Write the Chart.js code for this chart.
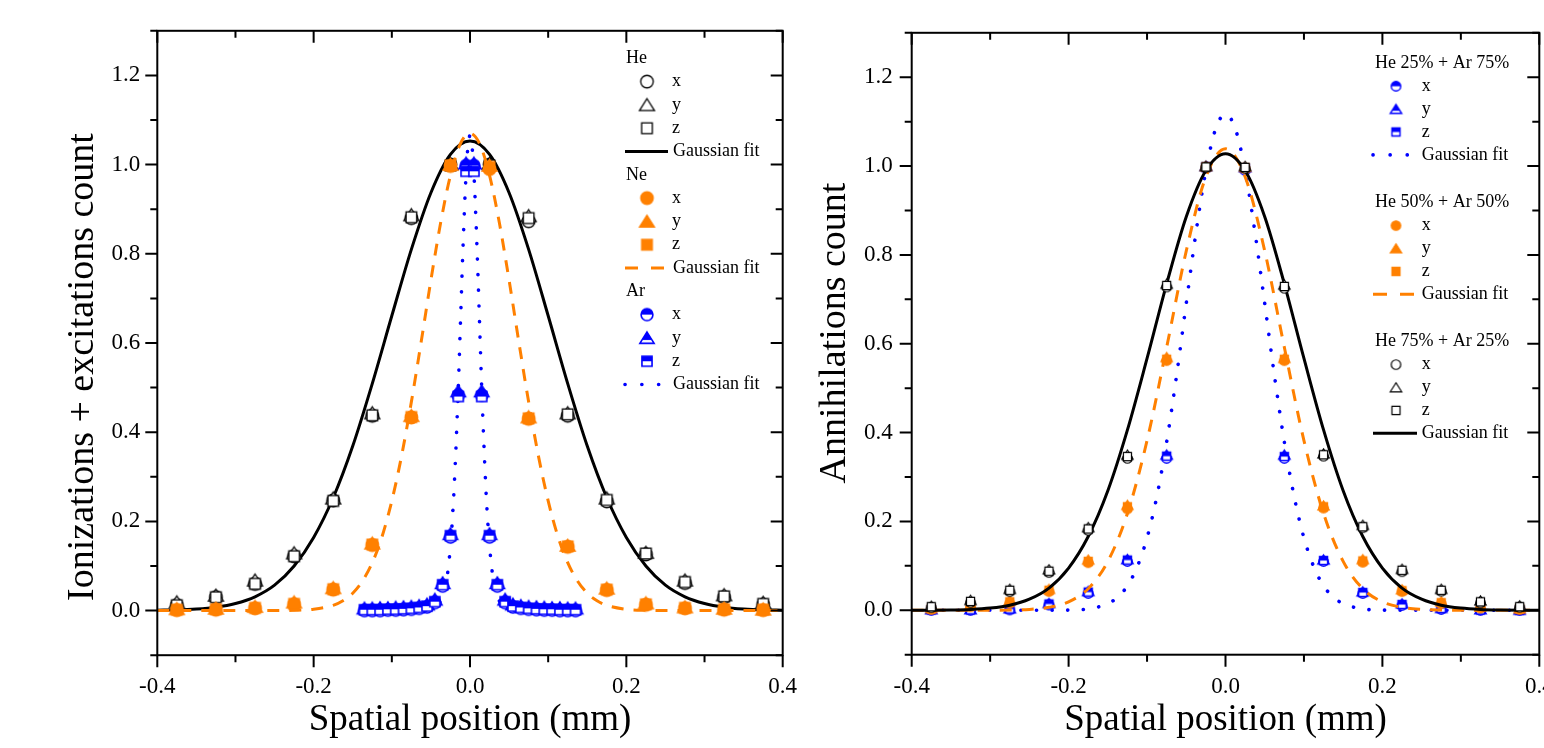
<!DOCTYPE html>
<html><head><meta charset="utf-8">
<script src="https://cdn.jsdelivr.net/npm/chart.js@4.4.1/dist/chart.umd.min.js"></script>
<style>
html,body{margin:0;padding:0;background:#fff;width:1544px;height:748px;overflow:hidden;position:relative}
canvas{position:absolute;top:0}
#c1{left:0}
#c2{left:800px}
</style></head><body>
<canvas id="c1" width="900" height="748"></canvas>
<canvas id="c2" width="900" height="748"></canvas>
<script>
// ---------------- DATA ----------------
const xTickValues = [-0.4, -0.2, 0, 0.2, 0.4];
const xTickLabels = ['-0.4', '-0.2', '0.0', '0.2', '0.4'];
const xMinorTicks = [-0.3, -0.1, 0.1, 0.3];
const yTickValues = [0, 0.2, 0.4, 0.6, 0.8, 1.0, 1.2];
const yTickLabels = ['0.0', '0.2', '0.4', '0.6', '0.8', '1.0', '1.2'];
const yMinorTicks = [-0.1, 0.1, 0.3, 0.5, 0.7, 0.9, 1.1, 1.3];
const xTitle = 'Spatial position (mm)';
const yTitleLeft = 'Ionizations + excitations count';
const yTitleRight = 'Annihilations count';
const compLabels = ['x', 'y', 'z'];
const fitLabel = 'Gaussian fit';
const groupsLeft = ['He', 'Ne', 'Ar'];
const groupsRight = ['He 25% + Ar 75%', 'He 50% + Ar 50%', 'He 75% + Ar 25%'];

// left chart markers
const posOuter = [-0.375,-0.325,-0.275,-0.225,-0.175,-0.125,-0.075,-0.025,0.025,0.075,0.125,0.175,0.225,0.275,0.325,0.375];
const heX = [0.012,0.030,0.060,0.122,0.247,0.437,0.880,1.000,1.000,0.873,0.437,0.245,0.126,0.062,0.030,0.013];
const heY = [0.019,0.034,0.068,0.129,0.252,0.443,0.887,1.002,1.002,0.885,0.443,0.252,0.130,0.068,0.035,0.018];
const heZ = [0.012,0.030,0.060,0.122,0.246,0.438,0.882,0.998,0.998,0.880,0.440,0.248,0.128,0.064,0.032,0.015];
const neX = [0.001,0.002,0.005,0.014,0.047,0.147,0.433,0.997,0.990,0.430,0.143,0.046,0.013,0.005,0.002,0.001];
const neY = [0.004,0.005,0.009,0.019,0.051,0.151,0.437,1.000,0.998,0.434,0.146,0.050,0.017,0.008,0.005,0.003];
const neZ = [0.002,0.003,0.006,0.015,0.048,0.148,0.434,0.998,0.995,0.431,0.144,0.047,0.014,0.006,0.003,0.002];
const posAr = [-0.135,-0.125,-0.115,-0.105,-0.095,-0.085,-0.075,-0.065,-0.055,-0.045,-0.035,-0.025,-0.015,-0.005,0.005,0.015,0.025,0.035,0.045,0.055,0.065,0.075,0.085,0.095,0.105,0.115,0.125,0.135];
const arX = [0.000,0.000,0.000,0.001,0.001,0.002,0.003,0.005,0.008,0.018,0.055,0.165,0.483,0.998,0.998,0.483,0.165,0.055,0.018,0.008,0.005,0.003,0.002,0.001,0.001,0.000,0.000,0.000];
const arY = [0.005,0.005,0.006,0.006,0.007,0.008,0.009,0.011,0.014,0.025,0.062,0.172,0.492,1.003,1.003,0.492,0.172,0.062,0.025,0.014,0.011,0.009,0.008,0.007,0.006,0.006,0.005,0.005];
const arZ = [0.002,0.002,0.002,0.003,0.003,0.004,0.005,0.007,0.010,0.020,0.058,0.168,0.480,0.985,0.985,0.480,0.168,0.058,0.020,0.010,0.007,0.005,0.004,0.003,0.003,0.002,0.002,0.002];

// left chart fits
const fitPosWide = [-0.4,-0.375,-0.35,-0.325,-0.3,-0.275,-0.25,-0.225,-0.2,-0.175,-0.15,-0.125,-0.1,-0.075,-0.05,-0.025,0,0.025,0.05,0.075,0.1,0.125,0.15,0.175,0.2,0.225,0.25,0.275,0.3,0.325,0.35,0.375,0.4];
const heFit = [0.001,0.0015,0.0035,0.0077,0.016,0.031,0.057,0.100,0.164,0.253,0.369,0.509,0.661,0.810,0.937,1.023,1.053,1.023,0.937,0.810,0.661,0.509,0.369,0.253,0.164,0.100,0.057,0.031,0.016,0.0077,0.0035,0.0015,0.001];
const neFitPos = [-0.4,-0.3,-0.25,-0.225,-0.2,-0.175,-0.1625,-0.15,-0.1375,-0.125,-0.1125,-0.1,-0.0875,-0.075,-0.0625,-0.05,-0.0375,-0.025,-0.0125,0,0.0125,0.025,0.0375,0.05,0.0625,0.075,0.0875,0.1,0.1125,0.125,0.1375,0.15,0.1625,0.175,0.2,0.225,0.25,0.3,0.4];
const neFit = [0,0,0.0001,0.0006,0.003,0.0118,0.022,0.039,0.0664,0.1075,0.166,0.246,0.347,0.468,0.602,0.741,0.870,0.976,1.046,1.07,1.046,0.976,0.870,0.741,0.602,0.468,0.347,0.246,0.166,0.1075,0.0664,0.039,0.022,0.0118,0.003,0.0006,0.0001,0,0];
const arFitPos = [-0.135,-0.08,-0.06,-0.05,-0.045,-0.04,-0.035,-0.03,-0.0275,-0.025,-0.0225,-0.02,-0.0175,-0.015,-0.0125,-0.01,-0.0075,-0.005,-0.0025,0,0.0025,0.005,0.0075,0.01,0.0125,0.015,0.0175,0.02,0.0225,0.025,0.0275,0.03,0.035,0.04,0.045,0.05,0.06,0.08,0.135];
const arFit = [0,0,0.001,0.003,0.007,0.015,0.032,0.068,0.100,0.145,0.205,0.285,0.385,0.500,0.630,0.762,0.882,0.980,1.043,1.065,1.043,0.980,0.882,0.762,0.630,0.500,0.385,0.285,0.205,0.145,0.100,0.068,0.032,0.015,0.007,0.003,0.001,0,0];

// right chart markers
const m25X = [0.000,0.000,0.001,0.012,0.038,0.110,0.342,0.995,0.990,0.342,0.110,0.038,0.011,0.002,0.000,0.000];
const m25Y = [0.002,0.002,0.004,0.016,0.043,0.115,0.350,1.000,0.997,0.350,0.114,0.042,0.015,0.005,0.002,0.001];
const m25Z = [0.001,0.001,0.003,0.014,0.041,0.113,0.347,0.998,0.995,0.346,0.112,0.040,0.013,0.004,0.001,0.000];
const m50X = [0.002,0.008,0.016,0.042,0.107,0.228,0.562,0.997,0.994,0.562,0.230,0.108,0.042,0.015,0.005,0.002];
const m50Y = [0.005,0.012,0.022,0.048,0.114,0.237,0.570,1.000,0.998,0.568,0.236,0.115,0.047,0.020,0.009,0.004];
const m50Z = [0.003,0.010,0.019,0.045,0.110,0.233,0.565,0.998,0.996,0.565,0.233,0.111,0.044,0.017,0.007,0.003];
const m75X = [0.006,0.018,0.042,0.085,0.180,0.342,0.728,0.997,0.995,0.725,0.347,0.186,0.087,0.043,0.017,0.007];
const m75Y = [0.010,0.023,0.048,0.092,0.187,0.350,0.735,1.000,1.000,0.733,0.353,0.192,0.093,0.048,0.022,0.011];
const m75Z = [0.008,0.020,0.045,0.088,0.183,0.346,0.731,0.998,0.997,0.729,0.350,0.188,0.090,0.045,0.019,0.008];

// right chart fits
const m75Fit = [0.0001,0.0002,0.0007,0.0019,0.0049,0.0114,0.025,0.050,0.095,0.166,0.269,0.406,0.567,0.735,0.886,0.990,1.028,0.990,0.886,0.735,0.567,0.406,0.269,0.166,0.095,0.050,0.025,0.0114,0.0049,0.0019,0.0007,0.0002,0.0001];
const m50Fit = [0,0,0,0,0.0001,0.0005,0.002,0.0066,0.019,0.0486,0.110,0.218,0.382,0.592,0.809,0.976,1.039,0.976,0.809,0.592,0.382,0.218,0.110,0.0486,0.019,0.0066,0.002,0.0005,0.0001,0,0,0,0];
const m25FitPos = [-0.4,-0.3,-0.25,-0.225,-0.2,-0.175,-0.15,-0.1375,-0.125,-0.1125,-0.1,-0.0875,-0.075,-0.0625,-0.05,-0.0375,-0.025,-0.0125,0,0.0125,0.025,0.0375,0.05,0.0625,0.075,0.0875,0.1,0.1125,0.125,0.1375,0.15,0.175,0.2,0.225,0.25,0.3,0.4];
const m25Fit = [0,0,0,0,0.0005,0.0031,0.0148,0.0295,0.055,0.098,0.163,0.256,0.379,0.527,0.691,0.852,0.990,1.084,1.117,1.084,0.990,0.852,0.691,0.527,0.379,0.256,0.163,0.098,0.055,0.0295,0.0148,0.0031,0.0005,0,0,0,0];

// ---------------- STYLE ----------------
const FONT = '"Liberation Serif", "Times New Roman", serif';
const ORANGE = '#FF8000', BLUE = '#0000FF', BLACK = '#000000';
const W = 900, H = 748;

function marker(shape, mode, color, D, lw) {
  const s = Math.ceil(D * 1.3 + 4);
  const c = document.createElement('canvas');
  c.width = s; c.height = s;
  const g = c.getContext('2d');
  const cx = s / 2, cy = s / 2, r = D / 2;
  function path() {
    g.beginPath();
    if (shape === 'circle') g.arc(cx, cy, r, 0, Math.PI * 2);
    else if (shape === 'square') g.rect(cx - r * 0.85, cy - r * 0.85, r * 1.7, r * 1.7);
    else { const hw = r * 1.2, hh = r * 0.95; g.moveTo(cx, cy - hh * 1.05); g.lineTo(cx + hw, cy + hh * 0.95); g.lineTo(cx - hw, cy + hh * 0.95); g.closePath(); }
  }
  path();
  g.fillStyle = mode === 'solid' ? color : '#ffffff';
  g.fill();
  if (mode === 'half') {
    g.save(); path(); g.clip();
    g.fillStyle = color;
    const cut = shape === 'triangle' ? cy + r * 0.35 : cy;
    g.fillRect(0, 0, s, cut);
    g.restore();
  }
  path();
  g.lineWidth = lw; g.strokeStyle = color; g.lineJoin = 'miter';
  g.stroke();
  return c;
}

const DL = 12.5, DR = 9.5;
const mkL = {
  he: [marker('circle','open',BLACK,DL,1.3), marker('triangle','open',BLACK,DL,1.3), marker('square','open',BLACK,DL,1.3)],
  ne: [marker('circle','solid',ORANGE,DL,1.3), marker('triangle','solid',ORANGE,DL,1.3), marker('square','solid',ORANGE,DL,1.3)],
  ar: [marker('circle','half',BLUE,DL*0.95,1.6), marker('triangle','half',BLUE,DL*0.95,1.6), marker('square','half',BLUE,DL*0.95,1.6)]
};
const mkR = {
  m25: [marker('circle','half',BLUE,DR,1.4), marker('triangle','half',BLUE,DR,1.4), marker('square','half',BLUE,DR,1.4)],
  m50: [marker('circle','solid',ORANGE,DR,1.2), marker('triangle','solid',ORANGE,DR,1.2), marker('square','solid',ORANGE,DR,1.2)],
  m75: [marker('circle','open',BLACK,DR,1.2), marker('triangle','open',BLACK,DR,1.2), marker('square','open',BLACK,DR,1.2)]
};

const LS = {
  solid: {color: BLACK, dash: [], width: 3, cap: 'butt'},
  dash: {color: ORANGE, dash: [12, 10], width: 3, cap: 'butt'},
  dot: {color: BLUE, dash: [0.1, 15.5], width: 3.6, cap: 'round'}
};

function pts(xs, ys) { return xs.map((x, i) => ({x: x, y: ys[i]})); }
function markDs(xs, ys, img) {
  return {data: pts(xs, ys), showLine: false, pointStyle: img, pointRadius: 5, borderWidth: 0, backgroundColor: 'rgba(0,0,0,0)'};
}
function lineDs(xs, ys, st) {
  return {data: pts(xs, ys), showLine: true, pointRadius: 0, borderColor: st.color, borderWidth: st.width,
          borderDash: st.dash, borderCapStyle: st.cap, cubicInterpolationMode: 'monotone', fill: false};
}
function ordered(list) { list.forEach((d, i) => { d.order = list.length - i; }); return list; }

const decorPlugin = {
  id: 'decor',
  afterDatasetsDraw(chart, args, o) {
    const ctx = chart.ctx, a = chart.chartArea, xs = chart.scales.x, ys = chart.scales.y;
    const MJ = 12, MN = 7;
    ctx.save();
    ctx.strokeStyle = '#000'; ctx.lineWidth = 2; ctx.lineCap = 'butt'; ctx.setLineDash([]);
    ctx.beginPath();
    const xt = (v, len) => { const p = xs.getPixelForValue(v); ctx.moveTo(p, a.bottom); ctx.lineTo(p, a.bottom + len); ctx.moveTo(p, a.top); ctx.lineTo(p, a.top + len); };
    const yt = (v, len) => { const p = ys.getPixelForValue(v); ctx.moveTo(a.left, p); ctx.lineTo(a.left - len, p); ctx.moveTo(a.right, p); ctx.lineTo(a.right - len, p); };
    xTickValues.forEach(v => xt(v, MJ)); xMinorTicks.forEach(v => xt(v, MN));
    yTickValues.forEach(v => yt(v, MJ)); yMinorTicks.forEach(v => yt(v, MN));
    ctx.stroke();
    ctx.strokeRect(a.left, a.top, a.right - a.left, a.bottom - a.top);

    // y axis title
    ctx.save();
    ctx.translate(o.yTitleX, o.yTitleY); ctx.rotate(-Math.PI / 2);
    ctx.font = '38px ' + FONT; ctx.fillStyle = '#000'; ctx.textAlign = 'center'; ctx.textBaseline = 'middle';
    ctx.fillText(o.yTitle, 0, 0);
    ctx.restore();

    // legend
    const L = o.legend;
    ctx.font = '18px ' + FONT; ctx.fillStyle = '#000'; ctx.textAlign = 'left'; ctx.textBaseline = 'middle';
    L.groups.forEach((grp, gi) => {
      let y = L.starts[gi];
      ctx.fillText(grp.title, L.headX, y);
      grp.marks.forEach((img, k) => {
        y += L.step;
        ctx.drawImage(img, L.markX - img.width / 2, y - img.height / 2);
        ctx.fillText(compLabels[k], L.textX, y);
      });
      y += L.step;
      const st = grp.line;
      ctx.save();
      ctx.strokeStyle = st.color; ctx.lineWidth = st.width; ctx.lineCap = st.cap;
      ctx.setLineDash(grp.legendDash || st.dash);
      ctx.beginPath(); ctx.moveTo(L.lineX0, y); ctx.lineTo(L.lineX1, y); ctx.stroke();
      ctx.restore();
      ctx.fillText(fitLabel, L.fitX, y);
    });
    ctx.restore();
  }
};

function makeChart(id, cfg) {
  const area = cfg.area;
  return new Chart(document.getElementById(id), {
    type: 'scatter',
    data: {datasets: cfg.datasets},
    options: {
      responsive: false, animation: false, devicePixelRatio: 1, events: [],
      layout: {padding: {left: 0, top: area.top, right: W - area.right, bottom: 0}},
      plugins: {legend: {display: false}, tooltip: {enabled: false}, decor: cfg.decor},
      scales: {
        x: {
          type: 'linear', position: 'bottom', min: -0.4, max: 0.4,
          afterBuildTicks: s => { s.ticks = xTickValues.map(v => ({value: v})); },
          afterFit: s => { s.height = H - area.bottom; },
          grid: {display: false, drawTicks: false}, border: {display: false},
          ticks: {color: '#000', font: {family: FONT, size: 23}, padding: 18, maxRotation: 0, autoSkip: false,
                  callback: v => xTickLabels[xTickValues.findIndex(t => Math.abs(t - v) < 1e-9)]},
          title: {display: true, text: xTitle, color: '#000', font: {family: FONT, size: 37}, padding: {top: 0, bottom: 6}}
        },
        y: {
          type: 'linear', position: 'left', min: -0.1, max: 1.3,
          afterBuildTicks: s => { s.ticks = yTickValues.map(v => ({value: v})); },
          afterFit: s => { s.width = area.left; },
          grid: {display: false, drawTicks: false}, border: {display: false},
          ticks: {color: '#000', font: {family: FONT, size: 23}, padding: cfg.yPad,
                  callback: v => yTickLabels[yTickValues.findIndex(t => Math.abs(t - v) < 1e-9)]}
        }
      }
    },
    plugins: [decorPlugin]
  });
}

// ---------------- LEFT CHART ----------------
makeChart('c1', {
  area: {left: 157.3, right: 782.7, top: 30.5, bottom: 655.2},
  yPad: 17,
  datasets: ordered([
    lineDs(fitPosWide, heFit, LS.solid),
    markDs(posOuter, heX, mkL.he[0]), markDs(posOuter, heY, mkL.he[1]), markDs(posOuter, heZ, mkL.he[2]),
    lineDs(neFitPos, neFit, LS.dash),
    markDs(posOuter, neX, mkL.ne[0]), markDs(posOuter, neY, mkL.ne[1]), markDs(posOuter, neZ, mkL.ne[2]),
    lineDs(arFitPos, arFit, LS.dot),
    markDs(posAr, arX, mkL.ar[0]), markDs(posAr, arY, mkL.ar[1]), markDs(posAr, arZ, mkL.ar[2])
  ]),
  decor: {
    yTitle: yTitleLeft, yTitleX: 83, yTitleY: 367,
    legend: {
      headX: 626, markX: 647, textX: 672, lineX0: 625, lineX1: 668, fitX: 673, step: 23.3,
      starts: [58.3, 174.8, 291.3],
      groups: [
        {title: groupsLeft[0], marks: mkL.he, line: LS.solid},
        {title: groupsLeft[1], marks: mkL.ne, line: LS.dash, legendDash: [13, 13]},
        {title: groupsLeft[2], marks: mkL.ar, line: LS.dot, legendDash: [0.1, 16.7]}
      ]
    }
  }
});

// ---------------- RIGHT CHART ----------------
const OFF = 800;
makeChart('c2', {
  area: {left: 911.7 - OFF, right: 1539.3 - OFF, top: 27.6, bottom: 654.7},
  yPad: 19,
  datasets: ordered([
    lineDs(m25FitPos, m25Fit, LS.dot),
    markDs(posOuter, m25X, mkR.m25[0]), markDs(posOuter, m25Y, mkR.m25[1]), markDs(posOuter, m25Z, mkR.m25[2]),
    lineDs(fitPosWide, m50Fit, LS.dash),
    markDs(posOuter, m50X, mkR.m50[0]), markDs(posOuter, m50Y, mkR.m50[1]), markDs(posOuter, m50Z, mkR.m50[2]),
    lineDs(fitPosWide, m75Fit, LS.solid),
    markDs(posOuter, m75X, mkR.m75[0]), markDs(posOuter, m75Y, mkR.m75[1]), markDs(posOuter, m75Z, mkR.m75[2])
  ]),
  decor: {
    yTitle: yTitleRight, yTitleX: 835 - OFF, yTitleY: 333,
    legend: {
      headX: 1375 - OFF, markX: 1396 - OFF, textX: 1421.7 - OFF, lineX0: 1373 - OFF, lineX1: 1417 - OFF, fitX: 1421.7 - OFF, step: 22.9,
      starts: [63.3, 202.7, 341.7],
      groups: [
        {title: groupsRight[0], marks: mkR.m25, line: LS.dot, legendDash: [0.1, 17]},
        {title: groupsRight[1], marks: mkR.m50, line: LS.dash, legendDash: [14, 13]},
        {title: groupsRight[2], marks: mkR.m75, line: LS.solid}
      ]
    }
  }
});
</script>
</body></html>
